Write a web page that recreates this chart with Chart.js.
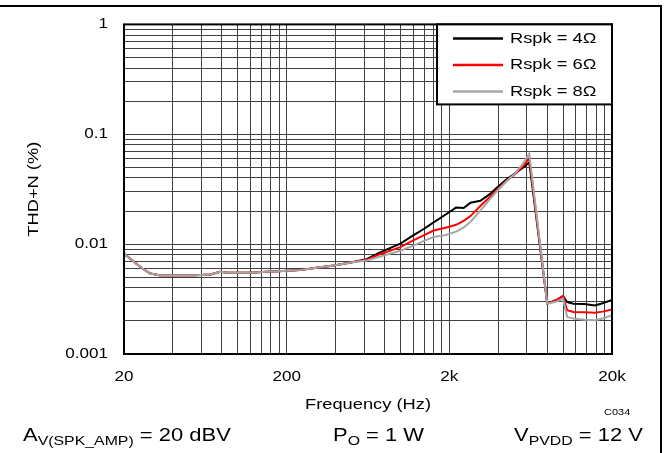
<!DOCTYPE html>
<html>
<head>
<meta charset="utf-8">
<script src="https://cdn.jsdelivr.net/npm/chart.js@4.4.0/dist/chart.umd.min.js"></script>
<style>
  body { margin: 0; background: #fff; }
  .wrap { position: relative; width: 665px; height: 453px; overflow: hidden; }
  .frame { position: absolute; left: -4px; top: 5px; width: 666px; height: 460px; border-top: 2px solid #000; border-right: 2px solid #000; box-sizing: border-box; }
  .note { position: absolute; top: 426px; font: 18px "Liberation Sans", Arial, sans-serif; line-height: 18px; color: #000; white-space: nowrap; transform: scaleX(1.22); transform-origin: 0 0; }
  .sub { font-size: 13px; vertical-align: -4px; }
  .code { position: absolute; left: 604px; top: 407px; font: 9px "Liberation Sans", Arial, sans-serif; line-height: 10px; transform: scaleX(1.22); transform-origin: 0 0; }
</style>
</head>
<body>
<div class="wrap">
  <canvas id="chart" width="665" height="453"></canvas>
  <div class="frame"></div>
  <div class="code">C034</div>
  <div class="note" style="left:23px">A<span class="sub">V(SPK_AMP)</span> = 20 dBV</div>
  <div class="note" style="left:333px">P<span class="sub">O</span> = 1 W</div>
  <div class="note" style="left:514px">V<span class="sub">PVDD</span> = 12 V</div>
</div>
<script>
// Data
const freq = [20, 23, 26, 29, 33, 40, 47, 55, 68, 78, 86, 100, 120, 150, 190, 240, 305, 390, 495, 620,
    750, 1000, 1200, 1400, 1600, 1900, 2200, 2450, 2700, 3100, 3550, 3900, 4500, 5000, 5700, 6200,
    8000, 9100, 10000, 10600, 11600, 13500, 15700, 17500, 20000];
const thd4 = [0.0082, 0.0069, 0.0060, 0.0054, 0.0052, 0.0052, 0.0052, 0.0052, 0.0053, 0.0056, 0.0055, 0.0055, 0.0055, 0.0056, 0.0057, 0.0058, 0.0061, 0.0064, 0.0068, 0.0073,
    0.0084, 0.0101, 0.0120, 0.0138, 0.0158, 0.0186, 0.0215, 0.0213, 0.0238, 0.0248, 0.0285, 0.0325, 0.0390, 0.0435, 0.0498, 0.0555,
    0.00287, 0.0031, 0.00337, 0.00297, 0.00287, 0.00285, 0.00277, 0.0029, 0.0031];
const thd6 = [0.0082, 0.0069, 0.0060, 0.0054, 0.0052, 0.0052, 0.0052, 0.0052, 0.0053, 0.0056, 0.0055, 0.0055, 0.0055, 0.0056, 0.0057, 0.0058, 0.0061, 0.0064, 0.0068, 0.0072,
    0.0081, 0.0094, 0.0108, 0.0121, 0.0133, 0.0141, 0.0150, 0.0163, 0.0180, 0.0222, 0.0268, 0.0310, 0.0378, 0.0425, 0.0515, 0.0605,
    0.00287, 0.0031, 0.00337, 0.0025, 0.00241, 0.0024, 0.00238, 0.00243, 0.00254];
const thd8 = [0.0082, 0.0069, 0.0060, 0.0054, 0.0052, 0.0052, 0.0052, 0.0052, 0.0053, 0.0056, 0.0055, 0.0055, 0.0055, 0.0056, 0.0057, 0.0058, 0.0061, 0.0064, 0.0068, 0.0071,
    0.0077, 0.0087, 0.0097, 0.0107, 0.0116, 0.0121, 0.0130, 0.0142, 0.0160, 0.0202, 0.0255, 0.0300, 0.0375, 0.0430, 0.0545, 0.0667,
    0.00287, 0.0030, 0.0032, 0.00217, 0.0021, 0.00205, 0.00203, 0.0021, 0.00226];
const seriesLabels = ['Rspk = 4Ω', 'Rspk = 6Ω', 'Rspk = 8Ω'];
const xTicks = [20, 200, 2000, 20000];
const xTickLabels = ['20', '200', '2k', '20k'];
const yTicks = [0.001, 0.01, 0.1, 1];
const yTickLabels = ['0.001', '0.01', '0.1', '1'];

const FONT = '"Liberation Sans", Arial, sans-serif';
const TEXT_STRETCH = 1.22; // the source font is drawn wide

// grid lines at 1..9 x each decade start
function gridValues(majors) {
    const values = [];
    for (let i = 0; i < majors.length - 1; i++) {
        for (let k = 1; k < 10; k++) values.push(majors[i] * k);
    }
    values.push(majors[majors.length - 1]);
    return values;
}

function labelFor(value, majors, labels) {
    const i = majors.indexOf(value);
    return i >= 0 ? labels[i] : '';
}

function points(values) {
    return freq.map((f, i) => ({ x: f, y: values[i] }));
}

const $canvas = document.getElementById('chart');
const ctx = $canvas.getContext('2d');

// stretch all canvas text horizontally around its anchor
const baseFillText = ctx.fillText.bind(ctx);
ctx.fillText = function (text, x, y) {
    this.save();
    this.translate(x, y);
    this.scale(TEXT_STRETCH, 1);
    baseFillText(text, 0, 0);
    this.restore();
};

const framePlugin = {
    id: 'frame',
    afterDatasetsDraw(chart) {
        const { ctx, chartArea: a } = chart;
        ctx.save();
        ctx.strokeStyle = '#000';
        ctx.lineWidth = 2;
        ctx.strokeRect(a.left, a.top, a.right - a.left, a.bottom - a.top);
        ctx.restore();
    }
};

const boxLegend = {
    id: 'boxLegend',
    afterDraw(chart) {
        const { ctx, chartArea: a } = chart;
        const left = a.right - 175, top = a.top;
        ctx.save();
        ctx.fillStyle = '#fff';
        ctx.fillRect(left, top, 175, 80);
        ctx.strokeStyle = '#000';
        ctx.lineWidth = 2;
        ctx.strokeRect(left, top, 175, 80);
        ctx.font = '15px ' + FONT;
        ctx.textAlign = 'left';
        ctx.textBaseline = 'middle';
        chart.data.datasets.forEach((ds, i) => {
            const y = top + 14 + i * 26.5;
            ctx.strokeStyle = ds.borderColor;
            ctx.lineWidth = 2.5;
            ctx.beginPath();
            ctx.moveTo(left + 16, y);
            ctx.lineTo(left + 66, y);
            ctx.stroke();
            ctx.fillStyle = '#000';
            ctx.fillText(ds.label, left + 73, y);
        });
        ctx.restore();
    }
};

new Chart($canvas, {
    type: 'line',
    data: {
        datasets: [
            { label: seriesLabels[0], data: points(thd4), borderColor: '#000000', order: 3 },
            { label: seriesLabels[1], data: points(thd6), borderColor: '#ff0000', order: 2 },
            { label: seriesLabels[2], data: points(thd8), borderColor: '#a6a6a6', order: 1 }
        ]
    },
    options: {
        responsive: false,
        animation: false,
        events: [],
        layout: { padding: { top: 23, right: 53, bottom: 0, left: 0 } },
        plugins: { legend: { display: false }, tooltip: { enabled: false } },
        elements: {
            point: { radius: 0 },
            line: { tension: 0, borderWidth: 2, fill: false }
        },
        scales: {
            x: {
                type: 'logarithmic',
                min: 20,
                max: 20000,
                afterBuildTicks: (scale) => { scale.ticks = gridValues(xTicks).map(v => ({ value: v })); },
                afterFit: (scale) => { scale.height = 99; },
                ticks: {
                    autoSkip: false, maxRotation: 0, padding: 15, color: '#000',
                    font: { family: FONT, size: 14 },
                    callback: (v) => labelFor(v, xTicks, xTickLabels)
                },
                grid: { color: '#404040', lineWidth: 1, drawTicks: false },
                border: { display: false },
                title: {
                    display: true, text: 'Frequency (Hz)', color: '#000',
                    font: { family: FONT, size: 15 }, padding: { top: 0, bottom: 39 }
                }
            },
            y: {
                type: 'logarithmic',
                min: 0.001,
                max: 1,
                afterBuildTicks: (scale) => { scale.ticks = gridValues(yTicks).map(v => ({ value: v })); },
                afterFit: (scale) => { scale.width = 124; },
                ticks: {
                    autoSkip: false, padding: 16, color: '#000',
                    font: { family: FONT, size: 14 },
                    callback: (v) => labelFor(v, yTicks, yTickLabels)
                },
                grid: { color: '#404040', lineWidth: 1, drawTicks: false },
                border: { display: false },
                title: {
                    display: true, text: 'THD+N (%)', color: '#000',
                    font: { family: FONT, size: 15 }, padding: { top: 25, bottom: 0 }
                }
            }
        }
    },
    plugins: [framePlugin, boxLegend]
});
</script>
</body>
</html>
